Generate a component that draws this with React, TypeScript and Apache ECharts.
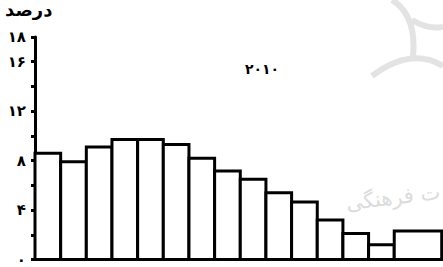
import React, { useEffect, useRef } from "react";
import * as echarts from "echarts";

// Histogram bins (bin index units) and percentages
const binStarts = [0, 1, 2, 3, 4, 5, 6, 7, 8, 9, 10, 11, 12, 13, 14];
const binEnds = [1, 2, 3, 4, 5, 6, 7, 8, 9, 10, 11, 12, 13, 14, 15.85];
const percents = [8.6, 7.9, 9.1, 9.7, 9.7, 9.3, 8.2, 7.15, 6.5, 5.4, 4.65, 3.2, 2.1, 1.2, 2.3];

const yTickValues = [0, 4, 8, 12, 16, 18];
const yTickLabels = ["۰", "۴", "۸", "۱۲", "۱۶", "۱۸"];

const yAxisTitle = "درصد";
const yearLabel = "۲۰۱۰";
const watermarkText = "ت فرهنگی";

const logoPath =
  "M392 0 C405 8 416 24 413 56 M372 76 C396 58 420 52 443 66 M412 20 C422 26 432 29 443 27";

let registered = false;

export default function App() {
  const ref = useRef<HTMLDivElement>(null);
  useEffect(() => {
    if (!registered) {
      echarts.graphic.registerShape("logo", echarts.graphic.extendPath(logoPath, {}));
      registered = true;
    }
    const chart = echarts.init(ref.current!, null, { renderer: "svg" });
    const data = binStarts.map((s, i) => [s, binEnds[i], percents[i]]);
    const font = "DejaVu Sans";
    chart.setOption({
      animation: false,
      grid: { left: 35, right: 0, top: 37, bottom: 7 },
      xAxis: {
        type: "value",
        min: 0,
        max: 15.9,
        axisLine: { show: true, lineStyle: { color: "#000", width: 2 } },
        axisTick: { show: false },
        axisLabel: { show: false },
        splitLine: { show: false },
      },
      yAxis: {
        type: "value",
        min: 0,
        max: 18,
        interval: 2,
        axisLine: { show: true, lineStyle: { color: "#000", width: 3 } },
        axisTick: { show: true, length: 4, lineStyle: { color: "#000", width: 3 } },
        axisLabel: {
          margin: 9,
          color: "#000",
          fontFamily: font,
          fontWeight: "bold",
          fontSize: 15,
          formatter: (v: number) => {
            const i = yTickValues.indexOf(v);
            return i >= 0 ? yTickLabels[i] : "";
          },
        },
        splitLine: { show: false },
      },
      graphic: [
        {
          type: "logo",
          x: 0,
          y: 0,
          z: -10,
          silent: true,
          style: { fill: "none", stroke: "#e3e3e3", lineWidth: 6 },
        },
        {
          type: "text",
          x: 440,
          y: 192,
          rotation: 0.12,
          z: -10,
          style: {
            text: watermarkText,
            fill: "#dcdcdc",
            fontSize: 21,
            fontFamily: font,
            align: "right",
            verticalAlign: "middle",
          },
        },
        {
          type: "text",
          left: 5,
          top: 0,
          style: {
            text: yAxisTitle,
            fill: "#000",
            fontSize: 18,
            fontWeight: "bold",
            fontFamily: font,
          },
        },
        {
          type: "text",
          x: 262,
          y: 69,
          style: {
            text: yearLabel,
            fill: "#000",
            fontSize: 14,
            fontWeight: "bold",
            fontFamily: font,
            align: "center",
            verticalAlign: "middle",
          },
        },
      ],
      series: [
        {
          type: "custom",
          data,
          encode: { x: [0, 1], y: 2 },
          renderItem: (params: any, api: any) => {
            const p0 = api.coord([api.value(0), 0]);
            const p1 = api.coord([api.value(1), api.value(2)]);
            return {
              type: "rect",
              shape: { x: p0[0], y: p1[1], width: p1[0] - p0[0], height: p0[1] - p1[1] },
              style: { fill: "#fff", stroke: "#000", lineWidth: 3 },
            };
          },
        },
      ],
    });
    return () => chart.dispose();
  }, []);
  return (
    <div
      ref={ref}
      style={{ position: "fixed", left: 0, top: 0, width: 443, height: 267, background: "#fff" }}
    />
  );
}
